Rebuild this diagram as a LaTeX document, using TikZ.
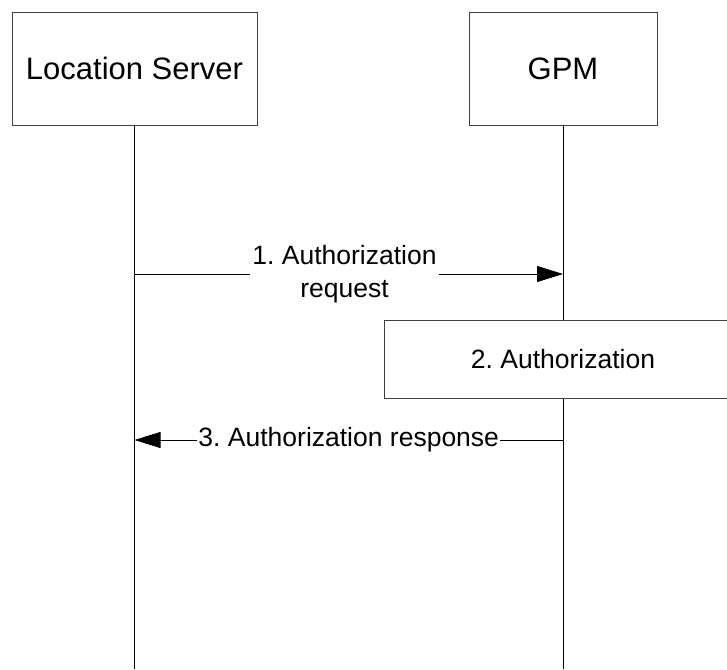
\documentclass[tikz,border=0pt]{standalone}
\usepackage{fontspec}
\setmainfont{Liberation Sans}
\usetikzlibrary{arrows.meta}
\frenchspacing

\begin{document}
\begin{tikzpicture}[x=1pt,y=-1pt]
		\tikzset{entity/.style={draw=black!75,fill=white,line width=0.8pt,minimum width=245pt,minimum height=113pt,font=\fontsize{31}{36}\selectfont}}
		\tikzset{actionbox/.style={draw=black!75,fill=white,line width=0.8pt,minimum width=358pt,minimum height=78pt,font=\fontsize{26.5}{33}\selectfont}}
		\tikzset{lifeline/.style={line width=1pt}}
		\tikzset{msg/.style={line width=1pt,-{Triangle[length=26pt,width=16pt]}}}
		\tikzset{msglabel/.style={fill=white,inner sep=2pt,align=center,font=\fontsize{26.5}{33}\selectfont}}
		\clip (0,0) rectangle (727,669);
		\useasboundingbox (0,0) rectangle (727,669);
		\coordinate (bottom) at (0,669);
		\coordinate (row1) at (0,274);
		\coordinate (row3) at (0,440);
		\node[entity] (ls) at (134.5,68.5) {Location Server};
		\node[entity,minimum width=188pt] (gpm) at (563,68.5) {GPM};
		\draw[lifeline] (ls.south) -- (ls.south |- bottom);
		\draw[lifeline] (gpm.south) -- (gpm.south |- bottom);
		\draw[msg] (ls.south |- row1) -- node[msglabel,pos=0.49] {1. Authorization\\request} (gpm.south |- row1);
		\node[actionbox] (auth) at (563,359) {2. Authorization};
		\draw[msg] (gpm.south |- row3) -- node[msglabel,pos=0.5,inner sep=1pt] {3. Authorization response} (ls.south |- row3);
\end{tikzpicture}
\end{document}
